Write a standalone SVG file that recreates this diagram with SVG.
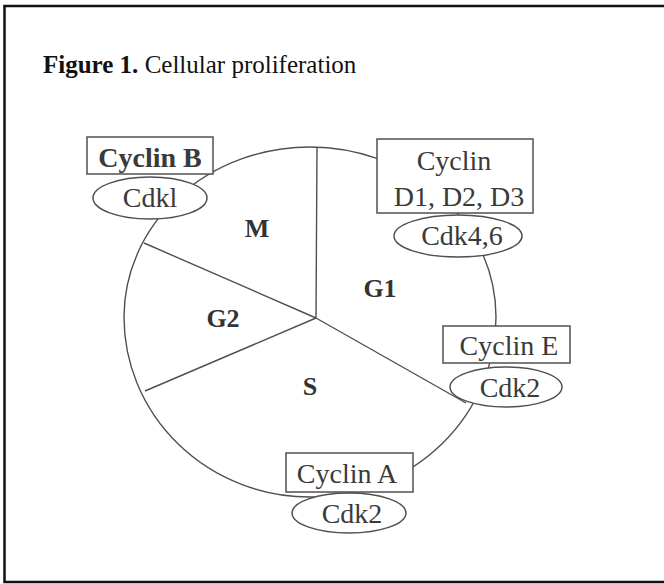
<svg xmlns="http://www.w3.org/2000/svg" width="664" height="584" viewBox="0 0 664 584">
<style>
.ln{fill:none;stroke:#505050;stroke-width:1.4}
.bx{fill:#fff;stroke:#505050;stroke-width:1.5}
.t{font-family:"Liberation Serif","Times New Roman",serif;font-size:28px;fill:#3a3a3a;text-anchor:middle}
.b{font-weight:bold}
.ph{font-family:"Liberation Serif","Times New Roman",serif;font-size:26px;font-weight:bold;fill:#333;text-anchor:middle}
</style>
<rect x="0" y="0" width="664" height="584" fill="#fff"/>
<rect x="4.5" y="6" width="720" height="576" fill="none" stroke="#111" stroke-width="2.5"/>
<text x="43" y="73" font-family="'Liberation Serif','Times New Roman',serif" font-size="25" fill="#111"><tspan font-weight="bold">Figure 1.</tspan> Cellular proliferation</text>
<g id="connectors">
<path class="ln" d="M124,317 A186,170 0 0 1 496,317 A186,180 0 0 1 124,317 Z"/>
<line class="ln" x1="316" y1="318" x2="317" y2="147"/>
<line class="ln" x1="316" y1="318" x2="144" y2="243"/>
<line class="ln" x1="316" y1="318" x2="145" y2="391"/>
<line class="ln" x1="316" y1="318" x2="466" y2="403"/>
</g>
<g id="phases">
<text class="ph" x="257" y="237">M</text>
<text class="ph" x="380" y="297">G1</text>
<text class="ph" x="223" y="327">G2</text>
<text class="ph" x="310" y="395">S</text>
</g>
<g id="cyclinB">
<rect class="bx" x="87" y="137" width="126" height="37"/>
<text class="t b" x="150" y="167">Cyclin B</text>
<ellipse class="bx" cx="150" cy="198" rx="57" ry="21"/>
<text class="t" x="150" y="207">Cdkl</text>
</g>
<g id="cyclinD">
<rect class="bx" x="377" y="139" width="156" height="74"/>
<text class="t" x="454" y="170">Cyclin</text>
<text class="t" x="459" y="206">D1, D2, D3</text>
<ellipse class="bx" cx="458" cy="236" rx="64" ry="21"/>
<text class="t" x="462" y="245">Cdk4,6</text>
</g>
<g id="cyclinE">
<rect class="bx" x="443" y="326" width="127" height="37"/>
<text class="t" x="509" y="355">Cyclin E</text>
<ellipse class="bx" cx="506" cy="387" rx="56" ry="20"/>
<text class="t" x="510" y="397">Cdk2</text>
</g>
<g id="cyclinA">
<rect class="bx" x="286" y="453" width="127" height="39"/>
<text class="t" x="347" y="483">Cyclin A</text>
<ellipse class="bx" cx="349" cy="513" rx="57" ry="20"/>
<text class="t" x="352" y="523">Cdk2</text>
</g>
</svg>
